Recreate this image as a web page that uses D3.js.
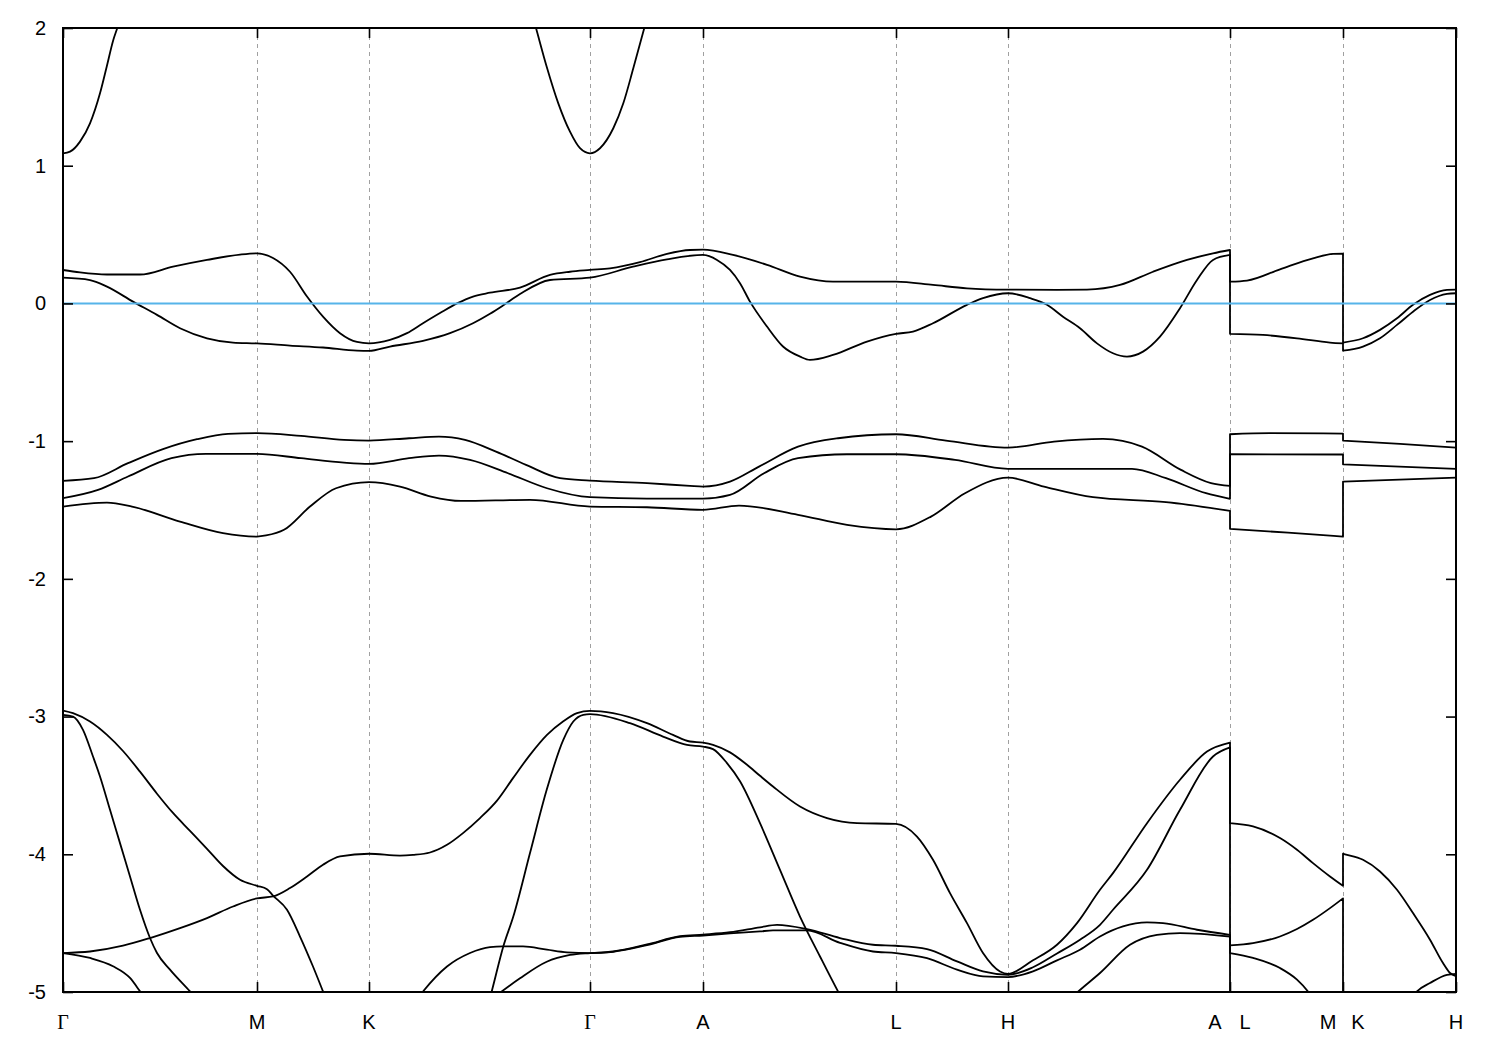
<!DOCTYPE html>
<html><head><meta charset="utf-8">
<script src="https://cdn.jsdelivr.net/npm/d3@7"></script>
<style>body{margin:0;background:#fff}svg{display:block}</style>
</head><body><svg id="c" width="1500" height="1050"></svg>
<script>
// ---- data ----
const kTicks = [0, 1.94, 3.06, 5.27, 6.40, 8.33, 9.45, 11.67, 12.80, 13.93];
const kLabels = ["Γ", "M", "K", "Γ", "A", "L", "H", "A|L", "M|K", "H"];
const yTicks = [2, 1, 0, -1, -2, -3, -4, -5];
const fermiLevel = 0;
// each band: [k, E]; a repeated k marks a jump between path segments
const bandHigh = [[0,1.09],[0.07,1.102],[0.17,1.175],[0.27,1.308],[0.37,1.526],[0.437,1.719],[0.503,1.913],[0.543,2.0],[0.60,2.14],[0.72,2.45],[2.37,3.6],[4.52,2.57],[4.65,2.21],[4.73,2.0],[4.837,1.719],[4.953,1.453],[5.07,1.247],[5.17,1.127],[5.27,1.09],[5.37,1.127],[5.503,1.272],[5.603,1.453],[5.703,1.707],[5.813,2.0],[5.89,2.21],[6.02,2.57],[8.37,3.6],[13.93,3.6]];
const bandV1 = [[0,0.243],[0.17,0.225],[0.44,0.21],[0.77,0.21],[1.10,0.267],[1.44,0.316],[1.77,0.355],[1.94,0.364],[2.10,0.33],[2.27,0.23],[2.44,0.05],[2.60,-0.096],[2.77,-0.216],[2.94,-0.28],[3.06,-0.29],[3.27,-0.265],[3.44,-0.216],[3.60,-0.144],[3.77,-0.07],[3.94,0.0],[4.10,0.05],[4.27,0.078],[4.57,0.115],[4.87,0.207],[5.07,0.23],[5.27,0.243],[5.47,0.255],[5.77,0.30],[6.04,0.36],[6.27,0.388],[6.40,0.39],[6.70,0.352],[7.04,0.28],[7.37,0.195],[7.70,0.158],[8.04,0.158],[8.33,0.158],[8.70,0.134],[9.04,0.11],[9.45,0.10],[9.94,0.098],[10.24,0.10],[10.57,0.134],[10.90,0.23],[11.24,0.316],[11.50,0.364],[11.67,0.388],
  [11.67,0.158],[11.84,0.166],[12.17,0.248],[12.50,0.328],[12.70,0.36],[12.80,0.362],
  [12.80,-0.284],[13.00,-0.253],[13.17,-0.192],[13.34,-0.108],[13.50,-0.01],[13.67,0.062],[13.84,0.098],[13.93,0.10]];
const bandV2 = [[0,0.187],[0.27,0.17],[0.44,0.122],[0.70,0.013],[0.94,-0.083],[1.17,-0.18],[1.44,-0.253],[1.70,-0.284],[1.94,-0.29],[2.27,-0.306],[2.60,-0.32],[2.94,-0.343],[3.06,-0.345],[3.27,-0.313],[3.60,-0.272],[3.87,-0.216],[4.10,-0.144],[4.27,-0.075],[4.40,-0.015],[4.57,0.068],[4.87,0.17],[5.27,0.187],[5.70,0.267],[6.04,0.32],[6.40,0.352],[6.54,0.316],[6.67,0.243],[6.77,0.147],[6.87,0.013],[7.04,-0.168],[7.20,-0.313],[7.37,-0.386],[7.47,-0.41],[7.70,-0.374],[8.04,-0.277],[8.33,-0.221],[8.50,-0.204],[8.70,-0.144],[9.04,-0.01],[9.20,0.038],[9.45,0.074],[9.67,0.038],[9.84,-0.01],[10.00,-0.096],[10.17,-0.18],[10.34,-0.29],[10.50,-0.362],[10.64,-0.386],[10.80,-0.35],[10.97,-0.241],[11.17,-0.035],[11.34,0.17],[11.50,0.316],[11.67,0.352],
  [11.67,-0.221],[12.00,-0.229],[12.34,-0.253],[12.67,-0.284],[12.80,-0.29],
  [12.80,-0.343],[13.00,-0.313],[13.17,-0.253],[13.34,-0.156],[13.50,-0.06],[13.67,0.025],[13.84,0.069],[13.93,0.074]];
const bandM1 = [[0,-1.288],[0.31,-1.269],[0.65,-1.16],[1.00,-1.058],[1.34,-0.986],[1.65,-0.947],[1.94,-0.942],[2.38,-0.962],[2.81,-0.991],[3.06,-0.996],[3.46,-0.979],[3.76,-0.967],[4.02,-0.991],[4.33,-1.076],[4.63,-1.172],[4.97,-1.269],[5.27,-1.286],[5.84,-1.305],[6.27,-1.325],[6.40,-1.33],[6.67,-1.294],[6.96,-1.185],[7.35,-1.04],[7.75,-0.979],[8.33,-0.95],[8.83,-0.996],[9.45,-1.047],[9.91,-1.003],[10.40,-0.984],[10.79,-1.04],[11.18,-1.209],[11.48,-1.305],[11.67,-1.325],
  [11.67,-0.95],[12.07,-0.942],[12.80,-0.945],
  [12.80,-0.996],[13.37,-1.02],[13.93,-1.047]];
const bandM2 = [[0,-1.414],[0.35,-1.354],[0.65,-1.257],[1.085,-1.124],[1.43,-1.093],[1.94,-1.093],[2.38,-1.124],[2.81,-1.156],[3.06,-1.165],[3.46,-1.124],[3.76,-1.105],[4.07,-1.136],[4.45,-1.233],[4.84,-1.342],[5.27,-1.407],[5.84,-1.417],[6.40,-1.417],[6.67,-1.39],[7.01,-1.233],[7.35,-1.124],[7.84,-1.095],[8.33,-1.095],[8.92,-1.136],[9.45,-1.201],[10.69,-1.201],[11.03,-1.269],[11.43,-1.378],[11.67,-1.419],
  [11.67,-1.095],[12.80,-1.097],
  [12.80,-1.168],[13.93,-1.201]];
const bandM3 = [[0,-1.475],[0.44,-1.446],[0.69,-1.475],[1.17,-1.584],[1.60,-1.668],[1.94,-1.693],[2.03,-1.685],[2.21,-1.644],[2.47,-1.475],[2.73,-1.342],[3.06,-1.298],[3.37,-1.33],[3.68,-1.402],[3.98,-1.434],[4.67,-1.426],[5.27,-1.475],[5.84,-1.48],[6.40,-1.499],[6.76,-1.468],[7.35,-1.535],[7.84,-1.608],[8.33,-1.64],[8.68,-1.548],[9.02,-1.378],[9.45,-1.265],[9.81,-1.33],[10.30,-1.407],[11.03,-1.443],[11.67,-1.506],
  [11.67,-1.637],[12.25,-1.665],[12.80,-1.693],
  [12.80,-1.294],[13.93,-1.265]];
const bandX1 = [[0,-2.956],[0.10,-2.975],[0.27,-3.036],[0.44,-3.133],[0.60,-3.25],[0.77,-3.40],[0.94,-3.56],[1.10,-3.70],[1.27,-3.83],[1.44,-3.96],[1.60,-4.085],[1.77,-4.185],[1.94,-4.229],[2.04,-4.253],[2.10,-4.30],[2.24,-4.403],[2.37,-4.597],[2.50,-4.815],[2.60,-4.996],[2.70,-5.18],[3.07,-5.5],[3.47,-5.12],[3.60,-4.996],[3.84,-4.815],[4.07,-4.717],[4.27,-4.674],[4.40,-4.669],[4.60,-4.669],[4.84,-4.693],[5.04,-4.712],[5.27,-4.717],[5.50,-4.706],[5.84,-4.655],[6.17,-4.595],[6.40,-4.583],[6.67,-4.566],[6.97,-4.53],[7.14,-4.512],[7.44,-4.543],[7.77,-4.608],[8.10,-4.657],[8.33,-4.664],[8.64,-4.688],[8.94,-4.778],[9.20,-4.851],[9.45,-4.875],[9.70,-4.82],[9.94,-4.72],[10.17,-4.62],[10.37,-4.512],[10.50,-4.403],[10.84,-4.113],[11.17,-3.677],[11.50,-3.29],[11.67,-3.224],
  [11.67,-4.662],[11.90,-4.645],[12.17,-4.597],[12.34,-4.543],[12.50,-4.476],[12.67,-4.391],[12.80,-4.32],
  [12.80,-5.6],[13.37,-5.2],[13.54,-4.996],[13.67,-4.935],[13.84,-4.875],[13.93,-4.868]];
const bandX2 = [[0,-2.987],[0.10,-3.0],[0.20,-3.096],[0.30,-3.29],[0.37,-3.435],[0.47,-3.677],[0.57,-3.919],[0.67,-4.161],[0.77,-4.403],[0.87,-4.608],[0.94,-4.717],[1.07,-4.838],[1.27,-4.996],[1.42,-5.12],[2.37,-5.7],[4.17,-5.3],[4.287,-4.996],[4.403,-4.669],[4.503,-4.452],[4.67,-3.991],[4.837,-3.532],[5.003,-3.169],[5.103,-3.036],[5.203,-2.987],[5.27,-2.982],[5.67,-3.048],[6.00,-3.145],[6.24,-3.206],[6.40,-3.218],[6.50,-3.236],[6.64,-3.338],[6.77,-3.47],[6.97,-3.774],[7.17,-4.113],[7.37,-4.452],[7.57,-4.742],[7.75,-4.996],[7.92,-5.22],[8.97,-5.7],[9.77,-5.3],[9.97,-5.12],[10.153,-4.996],[10.37,-4.862],[10.67,-4.657],[10.94,-4.585],[11.17,-4.572],[11.67,-4.597],
  [11.67,-5.4],[12.80,-5.6],
  [12.80,-5.7],[13.93,-5.7]];
const bandX3 = [[0,-4.717],[0.27,-4.706],[0.60,-4.664],[0.87,-4.608],[1.17,-4.536],[1.44,-4.463],[1.70,-4.379],[1.94,-4.32],[2.10,-4.306],[2.27,-4.245],[2.44,-4.161],[2.60,-4.076],[2.77,-4.016],[3.06,-3.996],[3.37,-4.009],[3.50,-4.004],[3.67,-3.987],[3.84,-3.931],[4.00,-3.846],[4.17,-3.737],[4.34,-3.610],[4.50,-3.447],[4.67,-3.278],[4.84,-3.133],[5.00,-3.036],[5.14,-2.975],[5.27,-2.958],[5.50,-2.975],[5.84,-3.048],[6.10,-3.133],[6.27,-3.181],[6.40,-3.189],[6.50,-3.205],[6.67,-3.26],[6.84,-3.35],[6.97,-3.43],[7.10,-3.508],[7.37,-3.653],[7.64,-3.737],[7.94,-3.774],[8.33,-3.779],[8.54,-3.871],[8.70,-4.04],[8.87,-4.282],[9.04,-4.5],[9.20,-4.717],[9.37,-4.851],[9.45,-4.868],[9.70,-4.77],[9.94,-4.657],[10.14,-4.5],[10.37,-4.258],[10.50,-4.137],[10.84,-3.774],[11.17,-3.459],[11.44,-3.254],[11.67,-3.189],
  [11.67,-3.774],[11.90,-3.798],[12.17,-3.882],[12.34,-3.967],[12.50,-4.064],[12.67,-4.161],[12.80,-4.229],
  [12.80,-3.996],[12.82,-4.0],[13.00,-4.04],[13.17,-4.125],[13.34,-4.258],[13.50,-4.427],[13.67,-4.62],[13.80,-4.79],[13.87,-4.862],[13.93,-4.885]];
const bandX4 = [[0,-4.717],[0.27,-4.753],[0.50,-4.813],[0.67,-4.898],[0.77,-4.995],[0.92,-5.15],[1.87,-5.7],[3.37,-5.6],[4.17,-5.12],[4.387,-4.996],[4.57,-4.9],[4.837,-4.78],[5.07,-4.731],[5.27,-4.717],[5.50,-4.708],[5.84,-4.66],[6.17,-4.60],[6.40,-4.59],[6.67,-4.575],[6.97,-4.56],[7.10,-4.553],[7.44,-4.553],[7.77,-4.643],[8.10,-4.706],[8.33,-4.717],[8.64,-4.754],[8.94,-4.838],[9.20,-4.887],[9.45,-4.892],[9.70,-4.85],[9.94,-4.77],[10.17,-4.693],[10.37,-4.597],[10.60,-4.524],[10.84,-4.495],[11.00,-4.5],[11.34,-4.548],[11.67,-4.585],
  [11.67,-4.717],[11.90,-4.753],[12.17,-4.826],[12.34,-4.91],[12.45,-4.996],[12.62,-5.2],[12.80,-5.4],
  [12.80,-5.5],[13.93,-5.5]];
const bands = [bandHigh, bandV1, bandV2, bandM1, bandM2, bandM3, bandX1, bandX2, bandX3, bandX4];

// ---- layout ----
const L = 63, R = 1456, T = 28, B = 992;
const svg = d3.select("#c");
const x = d3.scaleLinear().domain([kTicks[0], kTicks[kTicks.length-1]]).range([L, R]);
const y = d3.scaleLinear().domain([-5, 2]).range([B, T]);

svg.append("rect").attr("width",1500).attr("height",1050).attr("fill","#fff");
svg.append("defs").append("clipPath").attr("id","plot")
  .append("rect").attr("x",L).attr("y",T).attr("width",R-L).attr("height",B-T);

// grid
svg.append("g").selectAll("line").data(kTicks.slice(1,-1)).join("line")
  .attr("x1",d=>Math.round(x(d))+0.5).attr("x2",d=>Math.round(x(d))+0.5).attr("y1",T).attr("y2",B)
  .attr("stroke","#a0a0a0").attr("stroke-width",1).attr("stroke-dasharray","4,4");

// bands
const line = d3.line().x(d=>x(d[0])).y(d=>y(d[1])).curve(d3.curveMonotoneX);
function bandPath(pts){
  const runs = []; let cur = [pts[0]];
  for (let i=1;i<pts.length;i++){
    if (pts[i][0] === pts[i-1][0]) { runs.push(cur); cur = [pts[i]]; }
    else cur.push(pts[i]);
  }
  runs.push(cur);
  return runs.map((r,i)=>{ const s = line(r); return i ? "L" + s.slice(1) : s; }).join("");
}
svg.append("g").attr("clip-path","url(#plot)").selectAll("path").data(bands).join("path")
  .attr("d", bandPath).attr("fill","none").attr("stroke","#000").attr("stroke-width",1.8)
  .attr("stroke-linejoin","round");

// Fermi level
svg.append("line").attr("x1",L).attr("x2",R).attr("y1",y(fermiLevel)).attr("y2",y(fermiLevel))
  .attr("stroke","#56b4e9").attr("stroke-width",2);

// axes
const font = "'Liberation Sans', Arial, sans-serif";
const gl = svg.append("g").attr("transform",`translate(${L},0)`)
  .call(d3.axisLeft(y).tickValues(yTicks).tickSize(-10).tickPadding(17).tickFormat(d=>String(d)));
const gr = svg.append("g").attr("transform",`translate(${R},0)`)
  .call(d3.axisRight(y).tickValues(yTicks).tickSize(-10).tickFormat(""));
const gb = svg.append("g").attr("transform",`translate(0,${B})`)
  .call(d3.axisBottom(x).tickValues(kTicks).tickSize(-10).tickFormat(""));
const gt = svg.append("g").attr("transform",`translate(0,${T})`)
  .call(d3.axisTop(x).tickValues(kTicks).tickSize(-10).tickFormat(""));
[gl,gr,gb,gt].forEach(g=>{
  g.select(".domain").remove();
  g.selectAll(".tick line").attr("stroke","#000").attr("stroke-width",1.6);
});
gl.selectAll(".tick text").attr("font-family",font).attr("font-size",20).attr("fill","#000");

// x labels
const lab = svg.append("g").attr("font-size",20).attr("fill","#000").attr("text-anchor","middle");
kTicks.forEach((k,i)=>{
  const parts = kLabels[i].split("|");
  const offs = parts.length === 2 ? [-15, 15] : [0];
  parts.forEach((p,j)=>{
    lab.append("text").attr("x", x(k)+offs[j]).attr("y", 1029)
      .attr("font-family", p === "Γ" ? "'Liberation Serif', 'DejaVu Serif', serif" : font)
      .text(p);
  });
});

// border
svg.append("rect").attr("x",L).attr("y",T).attr("width",R-L).attr("height",B-T)
  .attr("fill","none").attr("stroke","#000").attr("stroke-width",2);
</script></body></html>
